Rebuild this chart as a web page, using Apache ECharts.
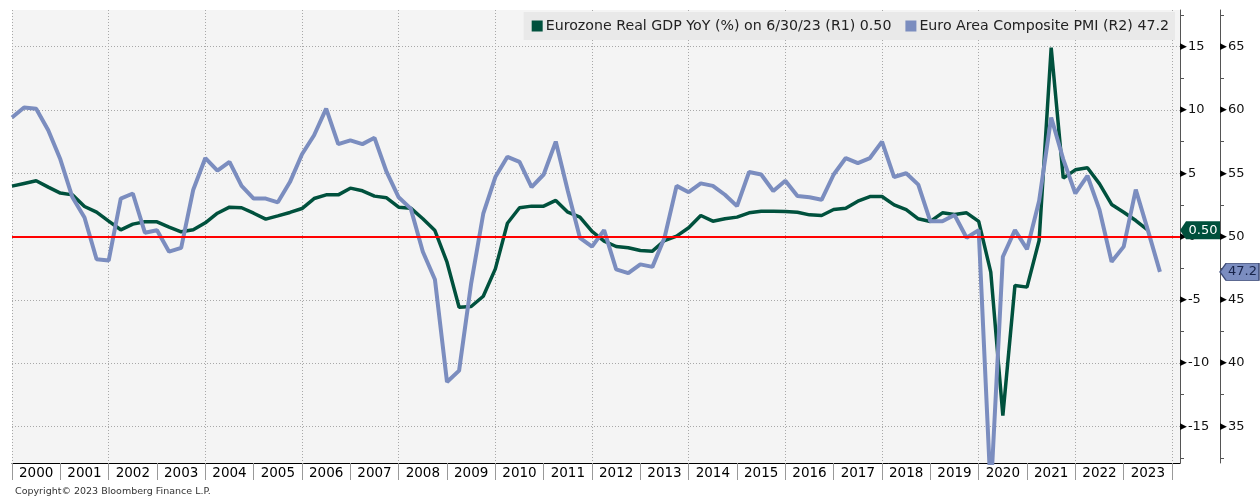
<!DOCTYPE html>
<html><head><meta charset="utf-8">
<script src="https://cdn.jsdelivr.net/npm/echarts@6/dist/echarts.min.js"></script>
<style>html,body{margin:0;padding:0;background:#fff}#c{width:1260px;height:496px}</style>
</head><body><div id="c"></div>
<script>
// ---- data ----
const gdpName = 'Eurozone Real GDP YoY (%) on 6/30/23 (R1) 0.50';
const pmiName = 'Euro Area Composite PMI (R2) 47.2';
const gdpLast = '0.50';
const pmiLast = '47.2';
const firstQuarterEnd = 2000.0;   // 12/31/1999, then quarterly
const years = [2000,2001,2002,2003,2004,2005,2006,2007,2008,2009,2010,2011,2012,2013,2014,2015,2016,2017,2018,2019,2020,2021,2022,2023];
const r1Labels = [-15,-10,-5,0,5,10,15];
const r2Labels = [35,40,45,50,55,60,65];
const gdp = [3.98,4.19,4.40,3.90,3.43,3.29,2.37,1.92,1.21,0.53,0.98,1.16,1.16,0.74,0.37,0.53,
  1.08,1.84,2.32,2.27,1.84,1.37,1.63,1.90,2.21,3.00,3.29,3.29,3.82,3.61,3.19,3.06,
  2.32,2.24,1.40,0.47,-2.03,-5.59,-5.53,-4.72,-2.56,1.05,2.27,2.40,2.40,2.85,1.92,1.53,
  0.40,-0.37,-0.79,-0.89,-1.11,-1.16,-0.32,0.03,0.69,1.66,1.21,1.40,1.53,1.87,2.00,2.00,
  1.98,1.92,1.71,1.66,2.13,2.24,2.79,3.16,3.16,2.50,2.13,1.40,1.19,1.87,1.74,1.87,
  1.19,-2.82,-14.15,-3.87,-4.00,-0.32,14.92,4.61,5.27,5.43,4.16,2.53,1.92,1.26,0.50];
const pmi = [59.4,60.2,60.1,58.4,56.1,53.1,51.5,48.2,48.1,53.0,53.4,50.3,50.5,48.8,49.1,53.7,
  56.2,55.2,55.9,54.0,53.0,53.0,52.7,54.3,56.5,58.0,60.1,57.3,57.6,57.3,57.8,55.1,
  53.1,52.2,48.8,46.6,38.5,39.4,46.3,51.8,54.7,56.3,55.9,53.9,54.9,57.5,53.6,49.9,
  49.2,50.5,47.4,47.1,47.8,47.6,49.9,54.0,53.5,54.2,54.0,53.3,52.4,55.1,54.9,53.6,
  54.4,53.2,53.1,52.9,54.9,56.2,55.8,56.2,57.5,54.7,55.0,54.1,51.2,51.2,51.7,49.9,
  50.5,29.7,48.4,50.5,49.0,52.8,59.4,56.1,53.4,54.8,52.1,48.0,49.2,53.7,50.5,47.2];

// ---- build ----
const qx = i => firstQuarterEnd + i * 0.25;
const gdpData = gdp.map((v, i) => [qx(i), v]);
const pmiData = pmi.map((v, i) => [qx(i), v]);
const xMin = years[0], xMax = 2024.165;
const yearTicks = years.concat([years[years.length - 1] + 1]);
const yearCenters = years.map(y => y + 0.5);
const r1Ticks = []; for (let v = -17.5; v <= 17.5; v += 2.5) r1Ticks.push(v);
const r2Ticks = r1Ticks.map(v => v + 50);

const FONT = 'DejaVu Sans';
const GREEN = '#00513d', BLUE = '#7b8dbf';

const rightAxis = (min, max, ticks, labels, offset) => ({
  type: 'value', position: 'right', offset, min, max,
  gridIndex: 0,
  axisLine: { show: true, onZero: false, lineStyle: { color: '#555', width: 1 } },
  axisTick: { show: true, customValues: ticks, length: 4, lineStyle: { color: '#555' } },
  axisLabel: {
    show: true, customValues: labels, margin: 0, color: '#111', fontSize: 13, fontFamily: FONT,
    formatter: v => '{t|\u25B6}' + v,
    rich: { t: { fontSize: 9, color: '#000', padding: [0, 1, 0, 0], fontFamily: FONT } }
  },
  splitLine: { show: false }
});

const option = {
  animation: false,
  backgroundColor: '#ffffff',
  textStyle: { fontFamily: FONT },
  title: {
    text: 'Copyright\u00A9 2023 Bloomberg Finance L.P.',
    left: 10, top: 482,
    textStyle: { fontSize: 9.5, fontWeight: 'normal', color: '#333', fontFamily: FONT }
  },
  legend: {
    data: [gdpName, pmiName],
    right: 85, top: 12,
    icon: 'rect', itemWidth: 11, itemHeight: 11, itemGap: 14,
    backgroundColor: '#e9e9e9', padding: [7, 6, 7, 8],
    textStyle: { fontSize: 14.2, color: '#222', fontFamily: FONT, padding: [0, 0, 0, -2] }
  },
  grid: {
    left: 12, right: 80, top: 10, bottom: 33,
    show: true, backgroundColor: '#f4f4f4', borderWidth: 0
  },
  xAxis: [
    {
      type: 'value', min: xMin, max: xMax, position: 'bottom',
      axisLine: { show: true, onZero: false, lineStyle: { color: '#000', width: 1 } },
      axisTick: { show: true, customValues: yearTicks, length: 17, lineStyle: { color: '#999' } },
      axisLabel: {
        show: true, customValues: yearCenters, margin: 3, color: '#000',
        fontSize: 13.5, fontFamily: FONT, formatter: v => String(Math.floor(v))
      },
      splitLine: { show: false }
    },
    {
      type: 'value', min: xMin, max: xMax, interval: 2, position: 'bottom',
      axisLine: { show: false }, axisTick: { show: false }, axisLabel: { show: false },
      splitLine: { show: true, lineStyle: { color: '#a8a8a8', width: 1, type: [1, 2] } }
    }
  ],
  yAxis: [
    rightAxis(-17.9, 17.9, r1Ticks, r1Labels, 0),
    rightAxis(32.1, 67.9, r2Ticks, r2Labels, 40),
    {
      type: 'value', position: 'left', min: -17.9, max: 17.9, minInterval: 5, maxInterval: 5, splitNumber: 7,
      axisLine: { show: false }, axisTick: { show: false }, axisLabel: { show: false },
      splitLine: { show: true, showMinLine: false, showMaxLine: false,
        lineStyle: { color: '#a8a8a8', width: 1, type: [1, 2] } }
    }
  ],
  series: [
    {
      name: gdpName, type: 'line', xAxisIndex: 0, yAxisIndex: 0, data: gdpData,
      showSymbol: false, symbol: 'none', z: 3,
      lineStyle: { color: GREEN, width: 3.5 }, itemStyle: { color: GREEN },
      markLine: {
        silent: true, symbol: 'none', label: { show: false },
        lineStyle: { color: '#ff0000', width: 2, type: 'solid' },
        data: [{ yAxis: 0 }]
      }
    },
    {
      name: pmiName, type: 'line', xAxisIndex: 0, yAxisIndex: 1, data: pmiData,
      showSymbol: false, symbol: 'none', z: 4,
      lineStyle: { color: BLUE, width: 4 }, itemStyle: { color: BLUE }
    },
    {
      type: 'scatter', xAxisIndex: 0, yAxisIndex: 0, clip: false, z: 10, silent: true,
      data: [[xMax, parseFloat(gdpLast)]],
      symbol: 'path://M0,9 L6,0 L40,0 L40,18 L6,18 Z', symbolSize: [40, 18], symbolOffset: [20, 0],
      itemStyle: { color: '#00503c', opacity: 1 },
      label: { show: true, position: 'inside', offset: [3, 0], formatter: gdpLast,
        color: '#ffffff', fontSize: 13, fontFamily: FONT }
    },
    {
      type: 'scatter', xAxisIndex: 0, yAxisIndex: 1, clip: false, z: 10, silent: true,
      data: [[xMax, parseFloat(pmiLast)]],
      symbol: 'path://M0,8.5 L6,0 L39,0 L39,17 L6,17 Z', symbolSize: [39, 17], symbolOffset: [40 + 19.5, 0],
      itemStyle: { color: '#7b8dc0', borderColor: '#3d4b78', borderWidth: 1, opacity: 1 },
      label: { show: true, position: 'inside', offset: [3, 0], formatter: pmiLast,
        color: '#18244a', fontSize: 13, fontFamily: FONT }
    }
  ]
};
const chart = echarts.init(document.getElementById('c'), null, { renderer: 'canvas' });
chart.setOption(option);
</script></body></html>
